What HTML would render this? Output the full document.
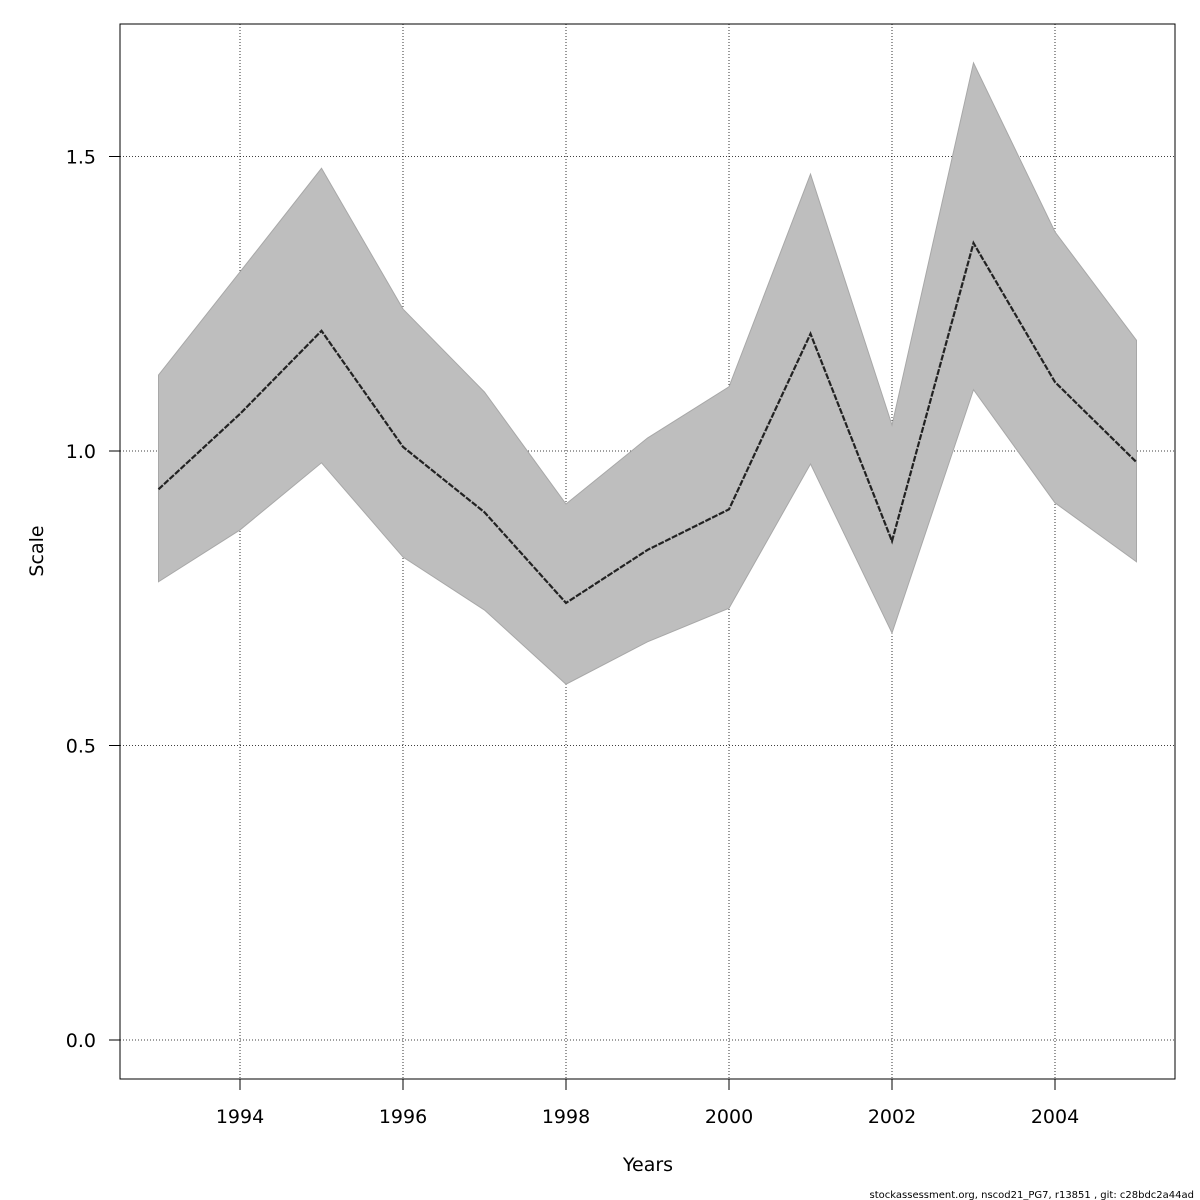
<!DOCTYPE html>
<html><head><meta charset="utf-8"><style>
html,body{margin:0;padding:0;background:#fff}
svg{display:block;font-family:"DejaVu Sans","Liberation Sans",sans-serif}
</style></head><body>
<svg id="chart" width="1200" height="1200" viewBox="0 0 1200 1200" xmlns="http://www.w3.org/2000/svg">
<rect x="0" y="0" width="1200" height="1200" fill="#fff"/>
<g id="grid"></g>
<path id="band" fill="#bebebe" stroke="#a8a8a8" stroke-width="1"/>
<path id="line" fill="none" stroke="#222" stroke-width="2.2" stroke-dasharray="6,1.5"/>
<rect x="120" y="24" width="1055" height="1055" fill="none" stroke="#000" stroke-width="1"/>
<g id="xticks"></g>
<g id="yticks"></g>
<text x="648" y="1171" font-size="19" text-anchor="middle">Years</text>
<text transform="translate(43,551) rotate(-90)" font-size="19" text-anchor="middle">Scale</text>
<text x="1194" y="1198" font-size="10" text-anchor="end">stockassessment.org, nscod21_PG7, r13851 , git: c28bdc2a44ad</text>
</svg>
<script>
const years=[1993,1994,1995,1996,1997,1998,1999,2000,2001,2002,2003,2004,2005];
const estimate=[0.935,1.063,1.204,1.007,0.896,0.742,0.832,0.901,1.199,0.847,1.353,1.117,0.981];
const upper=[1.129,1.304,1.480,1.241,1.100,0.910,1.022,1.109,1.470,1.044,1.659,1.372,1.188];
const lower=[0.778,0.866,0.980,0.820,0.730,0.604,0.676,0.733,0.978,0.691,1.104,0.912,0.812];
const xTickLabels=[1994,1996,1998,2000,2002,2004];
const yTickLabels=["0.0","0.5","1.0","1.5"];
const yTickValues=[0,0.5,1.0,1.5];

const X=v=>240+(v-1994)*81.5;
const Y=v=>1040-v*589;
const NS="http://www.w3.org/2000/svg";
function mk(tag,attrs,parent){const e=document.createElementNS(NS,tag);for(const k in attrs)e.setAttribute(k,attrs[k]);parent.appendChild(e);return e;}
const grid=document.getElementById('grid'),xt=document.getElementById('xticks'),yt=document.getElementById('yticks');
xTickLabels.forEach(t=>{
  const g=mk('line',{x1:X(t),x2:X(t),y1:24,y2:1079,stroke:'#000','stroke-width':0.8,'stroke-dasharray':'1,2'},grid);
  
  
  const tk=mk('line',{x1:X(t),x2:X(t),y1:1079,y2:1090,stroke:'#000'},xt);
  
  
  const tx=mk('text',{x:X(t),y:1123,'font-size':19,'text-anchor':'middle'},xt);
  
  
  tx.textContent=t;
});
yTickValues.forEach((v,i)=>{
  const g=mk('line',{x1:120,x2:1175,y1:Y(v),y2:Y(v),stroke:'#000','stroke-width':0.8,'stroke-dasharray':'1,2'},grid);
  
  
  const tk=mk('line',{x1:109,x2:120,y1:Y(v),y2:Y(v),stroke:'#000'},yt);
  
  
  const tx=mk('text',{x:96,y:Y(v)+7,'font-size':19,'text-anchor':'end'},yt);
  
  
  tx.textContent=yTickLabels[i];
});
let d=years.map((yr,i)=>(i?'L':'M')+X(yr)+','+Y(upper[i])).join(' ');
for(let i=years.length-1;i>=0;i--)d+=' L'+X(years[i])+','+Y(lower[i]);
document.getElementById('band').setAttribute('d',d+' Z');
document.getElementById('line').setAttribute('d',years.map((yr,i)=>(i?'L':'M')+X(yr)+','+Y(estimate[i])).join(' '));
</script>
</body></html>
